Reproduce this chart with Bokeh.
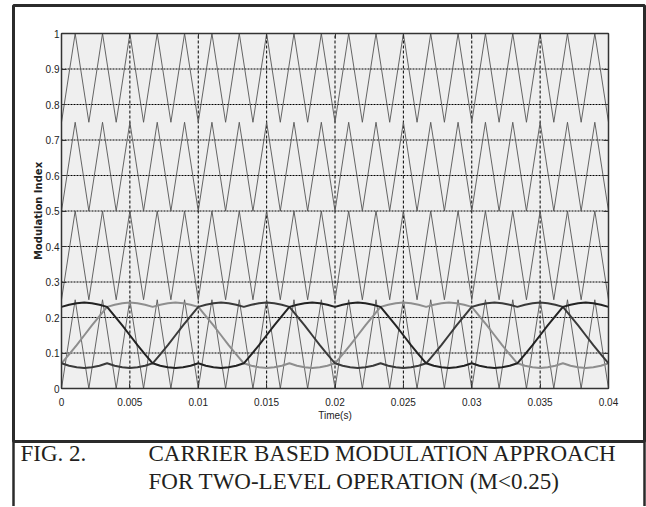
from bokeh.plotting import figure
from bokeh.models import FixedTicker, LinearAxis, Range1d, Label, BoxAnnotation
from bokeh.embed import file_html
from bokeh.resources import INLINE

# ---- data ----
x_ticks = [0, 0.005, 0.01, 0.015, 0.02, 0.025, 0.03, 0.035, 0.04]
x_tick_labels = ["0", "0.005", "0.01", "0.015", "0.02", "0.025", "0.03", "0.035", "0.04"]
y_ticks = [0, 0.1, 0.2, 0.3, 0.4, 0.5, 0.6, 0.7, 0.8, 0.9, 1.0]
y_tick_labels = ["0", "0.1", "0.2", "0.3", "0.4", "0.5", "0.6", "0.7", "0.8", "0.9", "1"]

# triangular carriers: vertex times and level (0 = band bottom, 1 = band top)
carrier_t = [0, 0.001, 0.002, 0.003, 0.004, 0.005, 0.006, 0.007, 0.008, 0.009,
             0.010, 0.011, 0.012, 0.013, 0.014, 0.015, 0.016, 0.017, 0.018, 0.019,
             0.020, 0.021, 0.022, 0.023, 0.024, 0.025, 0.026, 0.027, 0.028, 0.029,
             0.030, 0.031, 0.032, 0.033, 0.034, 0.035, 0.036, 0.037, 0.038, 0.039, 0.040]
carrier_level = [0, 1, 0, 1, 0, 1, 0, 1, 0, 1,
                 0, 1, 0, 1, 0, 1, 0, 1, 0, 1,
                 0, 1, 0, 1, 0, 1, 0, 1, 0, 1,
                 0, 1, 0, 1, 0, 1, 0, 1, 0, 1, 0]
band_bottom = [0.0, 0.25, 0.5, 0.75]
band_height = 0.25

# modulating signals (three phases)
mod_t = [0, 0.000556, 0.001111, 0.001667, 0.002222, 0.002778, 0.003333, 0.003889, 0.004444, 0.005,
         0.005556, 0.006111, 0.006667, 0.007222, 0.007778, 0.008333, 0.008889, 0.009444, 0.01,
         0.010556, 0.011111, 0.011667, 0.012222, 0.012778, 0.013333, 0.013889, 0.014444, 0.015,
         0.015556, 0.016111, 0.016667, 0.017222, 0.017778, 0.018333, 0.018889, 0.019444, 0.02,
         0.020556, 0.021111, 0.021667, 0.022222, 0.022778, 0.023333, 0.023889, 0.024444, 0.025,
         0.025556, 0.026111, 0.026667, 0.027222, 0.027778, 0.028333, 0.028889, 0.029444, 0.03,
         0.030556, 0.031111, 0.031667, 0.032222, 0.032778, 0.033333, 0.033889, 0.034444, 0.035,
         0.035556, 0.036111, 0.036667, 0.037222, 0.037778, 0.038333, 0.038889, 0.039444, 0.04]
phase_a = [0.230, 0.236, 0.240, 0.242, 0.240, 0.236, 0.230, 0.204, 0.178, 0.150,
           0.122, 0.096, 0.071, 0.064, 0.060, 0.058, 0.060, 0.064, 0.071,
           0.064, 0.060, 0.058, 0.060, 0.064, 0.071, 0.096, 0.122, 0.150,
           0.178, 0.204, 0.230, 0.236, 0.240, 0.242, 0.240, 0.236, 0.230,
           0.236, 0.240, 0.242, 0.240, 0.236, 0.230, 0.204, 0.178, 0.150,
           0.122, 0.096, 0.071, 0.064, 0.060, 0.058, 0.060, 0.064, 0.071,
           0.064, 0.060, 0.058, 0.060, 0.064, 0.071, 0.096, 0.122, 0.150,
           0.178, 0.204, 0.230, 0.236, 0.240, 0.242, 0.240, 0.236, 0.230]
phase_b = [0.071, 0.096, 0.122, 0.150, 0.178, 0.204, 0.230, 0.236, 0.240, 0.242,
           0.240, 0.236, 0.230, 0.236, 0.240, 0.242, 0.240, 0.236, 0.230,
           0.204, 0.178, 0.150, 0.122, 0.096, 0.071, 0.064, 0.060, 0.058,
           0.060, 0.064, 0.071, 0.064, 0.060, 0.058, 0.060, 0.064, 0.071,
           0.096, 0.122, 0.150, 0.178, 0.204, 0.230, 0.236, 0.240, 0.242,
           0.240, 0.236, 0.230, 0.236, 0.240, 0.242, 0.240, 0.236, 0.230,
           0.204, 0.178, 0.150, 0.122, 0.096, 0.071, 0.064, 0.060, 0.058,
           0.060, 0.064, 0.071, 0.064, 0.060, 0.058, 0.060, 0.064, 0.071]
phase_c = [0.071, 0.064, 0.060, 0.058, 0.060, 0.064, 0.071, 0.064, 0.060, 0.058,
           0.060, 0.064, 0.071, 0.096, 0.122, 0.150, 0.178, 0.204, 0.230,
           0.236, 0.240, 0.242, 0.240, 0.236, 0.230, 0.236, 0.240, 0.242,
           0.240, 0.236, 0.230, 0.204, 0.178, 0.150, 0.122, 0.096, 0.071,
           0.064, 0.060, 0.058, 0.060, 0.064, 0.071, 0.064, 0.060, 0.058,
           0.060, 0.064, 0.071, 0.096, 0.122, 0.150, 0.178, 0.204, 0.230,
           0.236, 0.240, 0.242, 0.240, 0.236, 0.230, 0.236, 0.240, 0.242,
           0.240, 0.236, 0.230, 0.204, 0.178, 0.150, 0.122, 0.096, 0.071]

x_label = "Time(s)"
y_label = "Modulation Index"
caption_fig = "FIG. 2."
caption_line1 = "CARRIER BASED MODULATION APPROACH"
caption_line2 = "FOR TWO-LEVEL OPERATION (M<0.25)"

# ---- layout (pixels on the canvas) ----
W, H = 646, 506
PL, PR, PT, PB = 61, 608, 33, 388          # plot box on the canvas
x0, x1 = x_ticks[0], x_ticks[-1]
y0, y1 = y_ticks[0], y_ticks[-1]
sx = (PR - PL) / (x1 - x0)
sy = (PB - PT) / (y1 - y0)
xr = Range1d(x0 - PL / sx, x1 + (W - PR) / sx)
yr = Range1d(y0 - (H - PB) / sy, y1 + PT / sy)

p = figure(width=W, height=H, x_range=xr, y_range=yr,
           output_backend="svg", toolbar_location=None,
           x_axis_location=None, y_axis_location=None)
p.min_border = 0
p.min_border_left = 0
p.min_border_right = 0
p.min_border_top = 0
p.min_border_bottom = 0
p.background_fill_color = "white"
p.border_fill_color = "white"
p.outline_line_color = None
p.grid.visible = False

# grey plot area
p.add_layout(BoxAnnotation(left=x0, right=x1, bottom=y0, top=y1,
                           fill_color="#efefef", fill_alpha=1.0,
                           line_color="#333333", line_alpha=1.0, line_width=1, level="underlay"))

tick_font = "Liberation Sans"

def style_axis(ax, show_labels):
    ax.major_tick_in = 5
    ax.major_tick_out = 0
    ax.minor_tick_in = 0
    ax.minor_tick_out = 0
    ax.minor_tick_line_color = None
    ax.axis_line_color = "#333333"
    ax.axis_line_width = 1.5
    ax.major_tick_line_color = "#333333"
    if show_labels:
        ax.major_label_text_font = tick_font
        ax.major_label_text_font_size = "10px"
        ax.major_label_text_color = "#222222"
    else:
        ax.major_label_text_color = None

xaxis = LinearAxis(ticker=FixedTicker(ticks=x_ticks), fixed_location=y0, bounds=(x0, x1))
style_axis(xaxis, True)
xaxis.major_label_overrides = {t: s for t, s in zip(x_ticks, x_tick_labels)}
xaxis.major_label_standoff = 9
xaxis.axis_label = x_label
xaxis.axis_label_text_font = tick_font
xaxis.axis_label_text_font_size = "10px"
xaxis.axis_label_text_font_style = "normal"
xaxis.axis_label_standoff = 1
xaxis.axis_label_text_color = "#222222"
p.add_layout(xaxis, "below")

yaxis = LinearAxis(ticker=FixedTicker(ticks=y_ticks), fixed_location=x0, bounds=(y0, y1))
style_axis(yaxis, True)
yaxis.major_label_overrides = {t: s for t, s in zip(y_ticks, y_tick_labels)}
yaxis.major_label_standoff = 2
yaxis.axis_label = y_label
yaxis.axis_label_text_font = "DejaVu Sans"
yaxis.axis_label_text_font_size = "10px"
yaxis.axis_label_text_font_style = "bold"
yaxis.axis_label_standoff = -1
yaxis.axis_label_text_color = "#222222"
p.add_layout(yaxis, "left")

right_ax = LinearAxis(ticker=FixedTicker(ticks=y_ticks), fixed_location=x1, bounds=(y0, y1))
style_axis(right_ax, False)
p.add_layout(right_ax, "right")
top_ax = LinearAxis(ticker=FixedTicker(ticks=x_ticks), fixed_location=y1, bounds=(x0, x1))
style_axis(top_ax, False)
p.add_layout(top_ax, "above")

# grid lines (inside the plot box only)
gx = x_ticks[1:-1]
gy = y_ticks[1:-1]
p.segment(x0=gx, y0=[y0] * len(gx), x1=gx, y1=[y1] * len(gx),
          line_color="black", line_width=1, line_dash="3 2")
p.segment(x0=[x0] * len(gy), y0=gy, x1=[x1] * len(gy), y1=gy,
          line_color="black", line_width=1, line_dash="2 1")

# carriers
for b in band_bottom:
    p.line(carrier_t, [b + band_height * lv for lv in carrier_level],
           line_color="#555555", line_width=0.9)

# modulating waves
p.line(mod_t, phase_b, line_color="#8e8e8e", line_width=2)
p.line(mod_t, phase_c, line_color="#3a3a3a", line_width=2)
p.line(mod_t, phase_a, line_color="#222222", line_width=2)

# outer frame and caption box (canvas units, y downwards)
p.add_layout(BoxAnnotation(left=13, right=644, top=5, bottom=441,
                           left_units="canvas", right_units="canvas",
                           top_units="canvas", bottom_units="canvas",
                           fill_color=None, fill_alpha=0,
                           line_color="#2b2b2b", line_alpha=1.0, line_width=3))
p.add_layout(BoxAnnotation(left=13, right=644, top=441, bottom=530,
                           left_units="canvas", right_units="canvas",
                           top_units="canvas", bottom_units="canvas",
                           fill_color=None, fill_alpha=0,
                           line_color="#2b2b2b", line_alpha=1.0, line_width=2.5))

cap_font = "Liberation Serif"
for txt, cx, cy in ((caption_fig, 20, 453), (caption_line1, 148, 453), (caption_line2, 148, 481)):
    p.add_layout(Label(x=cx, y=cy, x_units="canvas", y_units="canvas", text=txt,
                       text_font=cap_font, text_font_size="23px", text_color="#231f20",
                       text_baseline="middle", text_align="left"))

open("out.html", "w").write(file_html(p, INLINE))
